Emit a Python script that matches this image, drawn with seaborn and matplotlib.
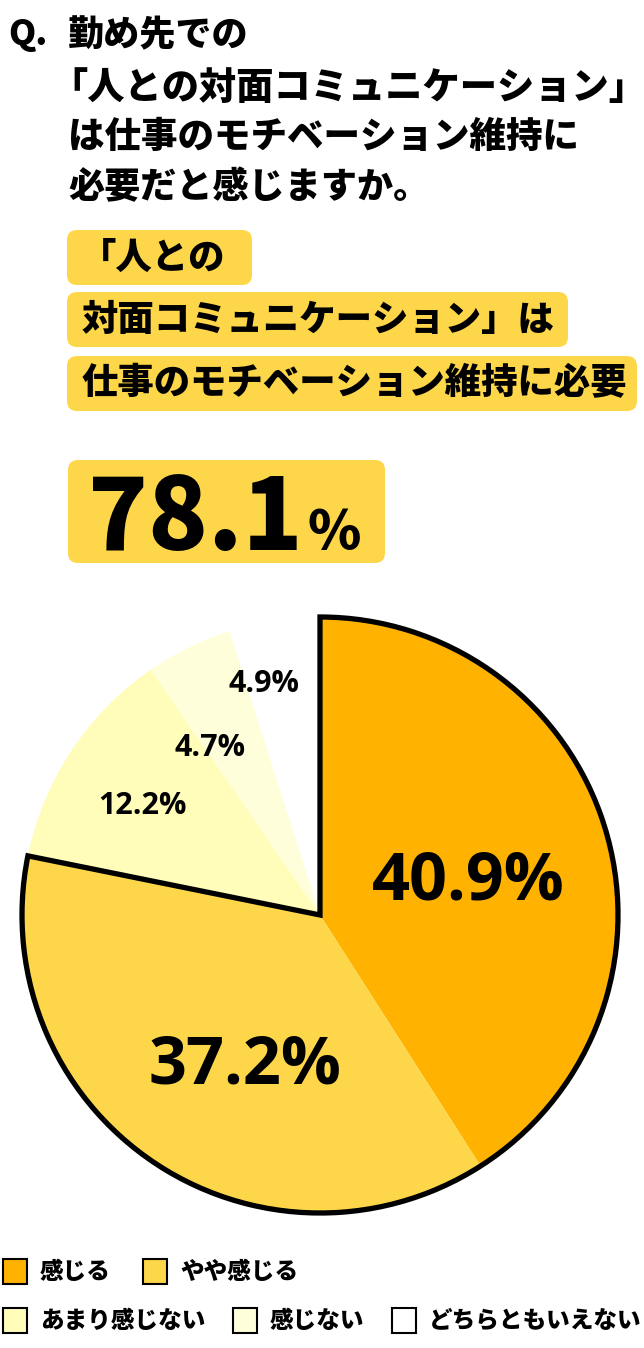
import matplotlib
matplotlib.use("Agg")
import matplotlib.pyplot as plt
from matplotlib.patches import FancyBboxPatch, Rectangle, Wedge
import seaborn as sns

# ---- data ----
categories = ["感じる", "やや感じる", "あまり感じない", "感じない", "どちらともいえない"]
values = [40.9, 37.2, 12.2, 4.7, 4.9]
value_labels = ["40.9%", "37.2%", "12.2%", "4.7%", "4.9%"]
title_lines = ["勤め先での", "「人との対面コミュニケーション」", "は仕事のモチベーション維持に", "必要だと感じますか。"]
box_lines = ["「人との", "対面コミュニケーション」は", "仕事のモチベーション維持に必要"]
headline_value = "78.1"

# ---- style ----
sns.set_theme(style="white")
plt.rcParams['font.family'] = ['Noto Sans CJK JP', 'DejaVu Sans']
plt.rcParams['text.color'] = 'black'
palette = sns.color_palette(["#FFB300", "#FDD64A", "#FFFDB9", "#FFFEDB", "#FFFFFF"])
box_color = "#FDD64A"
WEIGHT = 900

W, H = 644, 1348
fig = plt.figure(figsize=(W / 100, H / 100), dpi=100)
fig.patch.set_facecolor("white")

bg = fig.add_axes([0, 0, 1, 1])
bg.set_xlim(0, W)
bg.set_ylim(H, 0)
bg.axis("off")

# title
bg.text(8, 35, "Q.", fontsize=25, fontweight=WEIGHT, va="center", ha="left", color="black")
title_pos = [(68, 35), (50, 88), (68, 137), (68, 187)]
title_size = [26, 26.8, 26.3, 26]
for (x, y), line, fs in zip(title_pos, title_lines, title_size):
    bg.text(x, y, line, fontsize=fs, fontweight=WEIGHT, va="center", ha="left", color="black")

# highlighted boxes
box_geo = [(67, 230, 185, 55), (67, 292, 501, 55), (67, 356, 570, 55)]
box_text_x = [80, 82, 82]
for (x, y, w, h), tx, line in zip(box_geo, box_text_x, box_lines):
    bg.add_patch(FancyBboxPatch((x, y), w, h, boxstyle="round,pad=0,rounding_size=10",
                                facecolor=box_color, edgecolor="none"))
    bg.text(tx, y + h / 2, line, fontsize=26.2, fontweight=WEIGHT, va="center", ha="left",
            color="black")

bg.add_patch(FancyBboxPatch((68, 460), 317, 103, boxstyle="round,pad=0,rounding_size=10",
                            facecolor=box_color, edgecolor="none"))
bg.text(88, 550, headline_value, fontsize=71, fontweight=WEIGHT, va="baseline", ha="left",
        color="black")
bg.text(308, 550, "%", fontsize=39, fontweight=WEIGHT, va="baseline", ha="left", color="black")

# ---- pie ----
cx, cy, r, half = 320, 915, 298, 312
ax = fig.add_axes([(cx - half) / W, 1 - (cy + half) / H, 2 * half / W, 2 * half / H])
wedges, _ = ax.pie(values, colors=palette, startangle=90, counterclock=False,
                   wedgeprops=dict(linewidth=0))
lim = half / r
ax.set_xlim(-lim, lim)
ax.set_ylim(-lim, lim)
ax.set_aspect("equal")
ax.axis("off")

outline = Wedge((0, 0), 1, wedges[1].theta1, wedges[0].theta2, facecolor="none",
                edgecolor="black", linewidth=3.8, joinstyle="miter")
ax.add_patch(outline)

label_pos = [(0.497, 0.111), (-0.252, -0.507), (-0.594, 0.366), (-0.369, 0.560), (-0.188, 0.775)]
label_size = [48, 48, 22, 22, 22]
for (x, y), lab, fs in zip(label_pos, value_labels, label_size):
    ax.text(x, y, lab, fontsize=fs, fontweight="bold", ha="center", va="center",
            family=["Open Sans", "DejaVu Sans"], color="black")

# ---- legend ----
legend_pos = [(3, 1259), (143, 1259), (3, 1308), (233, 1308), (392, 1308)]
for (x, y), col, name in zip(legend_pos, palette, categories):
    bg.add_patch(Rectangle((x, y), 24, 25, facecolor=col, edgecolor="black", linewidth=1.5))
    bg.text(x + 37, y + 12.5, name, fontsize=17, fontweight=WEIGHT, va="center", ha="left",
            color="black")

fig.savefig("out.png", dpi=100, facecolor="white")
